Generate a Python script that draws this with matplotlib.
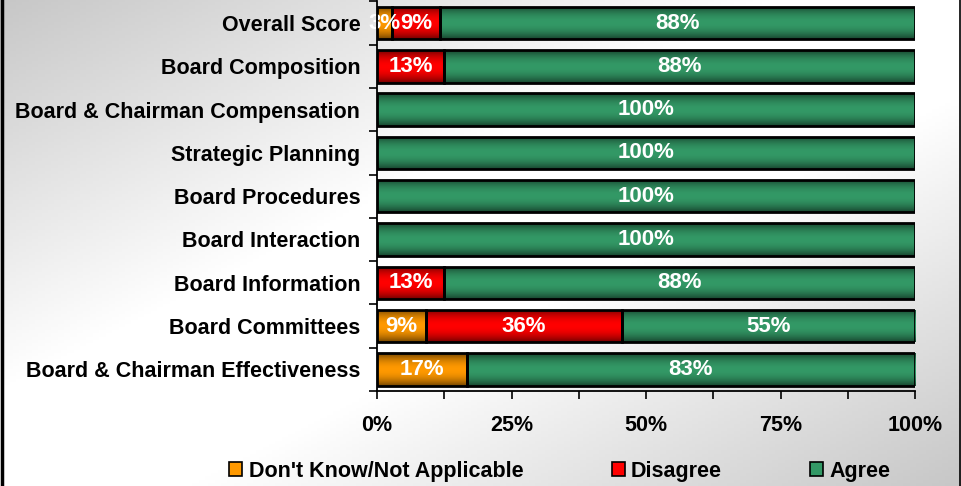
import numpy as np
import matplotlib
matplotlib.use("Agg")
import matplotlib.pyplot as plt
from matplotlib.patches import Patch
from matplotlib.lines import Line2D
from matplotlib.colors import to_rgb

plt.rcParams['font.family'] = ['Liberation Sans', 'DejaVu Sans']
plt.rcParams['font.weight'] = 'bold'

categories = ["Overall Score", "Board Composition", "Board & Chairman Compensation",
              "Strategic Planning", "Board Procedures", "Board Interaction",
              "Board Information", "Board Committees", "Board & Chairman Effectiveness"]
dont_know = [2.8, 0, 0, 0, 0, 0, 0, 9.1, 16.7]
disagree = [9.0, 12.5, 0, 0, 0, 0, 12.5, 36.4, 0]
agree = [88.2, 87.5, 100, 100, 100, 100, 87.5, 54.5, 83.3]
series_names = ["Don't Know/Not Applicable", "Disagree", "Agree"]
series_colors = ["#FF9900", "#FF0000", "#339966"]
xticks = [0, 25, 50, 75, 100]
xticklabels = ["0%", "25%", "50%", "75%", "100%"]

W, H = 961, 486
fig = plt.figure(figsize=(W / 100, H / 100), dpi=100)

# background gradient
bg = fig.add_axes([0, 0, 1, 1], zorder=-10)
xx, yy = np.meshgrid(np.linspace(0, 1, 300), np.linspace(0, 1, 150))
v = (xx + yy) / 2.0
t = 1 - np.abs(2 * v - 1)
gray0, gray1 = 0.78, 1.0
img = gray0 + (gray1 - gray0) * np.clip(t * 1.25, 0, 1)
bg.imshow(np.dstack([img, img, img]), extent=[0, 1, 0, 1], aspect='auto', origin='upper')
bg.set_axis_off()

ax = fig.add_axes([377 / W, 1 - 391 / H, (915 - 377) / W, (391 - 1.4) / H])
ax.set_facecolor('none')

n = len(categories)
ypos = np.arange(n)[::-1]
bar_h = 0.75

def shade_cmap(color, n=64):
    base = np.array(to_rgb(color))
    s = np.linspace(-1, 1, n)
    f = 1 - 0.55 * np.abs(s) ** 2.0
    return (base[None, :] * f[:, None])

left = np.zeros(n)
for vals, col in zip([dont_know, disagree, agree], series_colors):
    vals = np.array(vals, dtype=float)
    mask = vals > 0
    bars = ax.barh(ypos[mask], vals[mask], left=left[mask], height=bar_h,
                   color=col, edgecolor='none', zorder=2)
    grad = shade_cmap(col)
    for p in bars.patches:
        x0, y0 = p.get_x(), p.get_y()
        w, h = p.get_width(), p.get_height()
        im = ax.imshow(grad[:, None, :], extent=[x0, x0 + w, y0, y0 + h],
                       aspect='auto', origin='lower', zorder=2.5, interpolation='bilinear')
        im.set_clip_path(p)
    ax.barh(ypos[mask], vals[mask], left=left[mask], height=bar_h,
            fill=False, edgecolor='black', linewidth=2.0, zorder=3)
    for yv, lv, vv in zip(ypos[mask], left[mask], vals[mask]):
        ax.text(lv + vv / 2, yv, f"{int(vv + 0.5)}%", ha='center', va='center',
                color='white', fontsize=16, fontweight='bold', zorder=4)
    left = left + vals

ax.set_xlim(0, 100)
ax.set_ylim(-0.5, n - 0.5)
ax.set_yticks(ypos)
ax.set_yticklabels(categories, fontsize=15.5, fontweight='bold')
ax.set_yticks(np.arange(-0.5, n, 1.0), minor=True)
ax.tick_params(axis='y', which='major', length=0, pad=12)
ax.tick_params(axis='y', which='minor', length=6, width=1.2, direction='out')
ax.set_xticks(xticks)
ax.set_xticklabels(xticklabels, fontsize=15.5, fontweight='bold')
ax.set_xticks(np.arange(0, 101, 12.5), minor=True)
ax.tick_params(axis='x', which='both', length=6, width=1.2, direction='out', pad=11)
for s in ['top', 'right']:
    ax.spines[s].set_visible(False)
for s in ['left', 'bottom']:
    ax.spines[s].set_linewidth(1.3)
    ax.spines[s].set_zorder(5)

handles = [Patch(facecolor=c, edgecolor='black', linewidth=1.2) for c in series_colors]
fig.legend(handles, series_names, loc='center', bbox_to_anchor=(560 / W, 1 - 471 / H),
           ncol=3, frameon=False, columnspacing=4.1, handletextpad=0.3,
           handlelength=0.6, handleheight=0.6, prop={'weight': 'bold', 'size': 15.5})

# figure border lines (left thick, right thin)
fig.add_artist(Line2D([1.5 / W, 1.5 / W], [0, 1], transform=fig.transFigure, color='black', linewidth=2.5))
fig.add_artist(Line2D([959.5 / W, 959.5 / W], [0, 1], transform=fig.transFigure, color='black', linewidth=1.2))

fig.savefig("out.png", dpi=100)
